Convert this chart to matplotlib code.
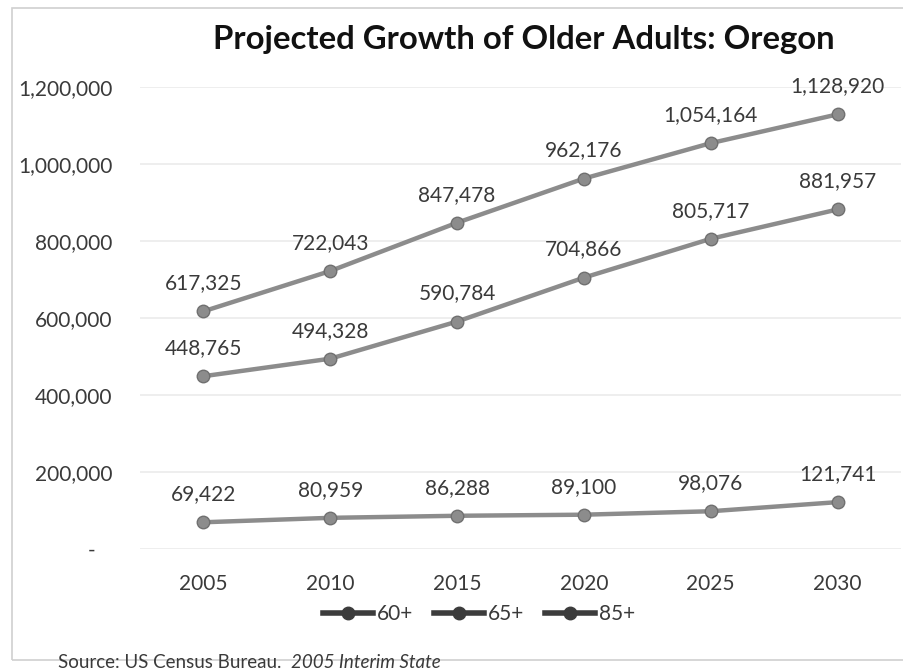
import matplotlib
matplotlib.use("Agg")
import matplotlib.pyplot as plt
from matplotlib.lines import Line2D
from matplotlib.patches import Rectangle

plt.rcParams["font.family"] = ["Lato", "DejaVu Sans"]

years = ["2005", "2010", "2015", "2020", "2025", "2030"]
age_60 = [617325, 722043, 847478, 962176, 1054164, 1128920]
age_65 = [448765, 494328, 590784, 704866, 805717, 881957]
age_85 = [69422, 80959, 86288, 89100, 98076, 121741]
series_names = ["60+", "65+", "85+"]
y_ticks = [0, 200000, 400000, 600000, 800000, 1000000, 1200000]

line_col = "#8c8c8c"
edge_col = "#707070"
text_col = "#3a3a3a"

fig = plt.figure(figsize=(9.04, 6.71), dpi=100)
ax = fig.add_axes([140 / 904, 1 - 549 / 671, 761 / 904, 462 / 671])

x = list(range(len(years)))
for vals in (age_60, age_65, age_85):
    ax.plot(x, vals, color=line_col, lw=3.2, marker="o", ms=9,
            mfc=line_col, mec=edge_col, mew=1.0, solid_capstyle="round", zorder=3)
    for xi, v in zip(x, vals):
        ax.annotate(f"{v:,}", (xi, v), xytext=(0, 13), textcoords="offset points",
                    ha="center", va="bottom", fontsize=15, color=text_col,
                    annotation_clip=False)

ax.set_xlim(-0.5, len(years) - 0.5)
ax.set_ylim(0, 1200000)
ax.set_xticks(x)
ax.set_xticklabels(years)
ax.set_yticks(y_ticks)
ax.set_yticklabels(["-   " if t == 0 else f"{t:,}" for t in y_ticks])
ax.tick_params(axis="both", length=0, labelsize=15, labelcolor=text_col)
ax.tick_params(axis="x", pad=18)
ax.tick_params(axis="y", pad=20)
ax.grid(axis="y", color="#ebebeb", lw=1.2)
ax.set_axisbelow(True)
for s in ax.spines.values():
    s.set_visible(False)

fig.text(524 / 904, 1 - 40 / 671, "Projected Growth of Older Adults: Oregon",
         ha="center", va="center", fontsize=23.7, fontweight="bold", color="#111111")

handles = [Line2D([], [], color="#3c3c3c", lw=4, marker="o", ms=9,
                  mfc="#3c3c3c", mec="#3c3c3c") for _ in series_names]
fig.legend(handles, series_names, loc="center", bbox_to_anchor=(479 / 904, 1 - 614 / 671),
           ncol=3, frameon=False, fontsize=15, handlelength=2.4, handletextpad=0.2,
           columnspacing=1.0, labelcolor=text_col)

fig.text(58 / 904, 1 - 663 / 671, "Source: US Census Bureau.", ha="left", va="center",
         fontsize=13.5, color=text_col)
fig.text(291 / 904, 1 - 663 / 671, "2005 Interim State", ha="left", va="center",
         fontsize=13.5, color=text_col, style="italic")

fig.patches.append(Rectangle((12 / 904, 1 - 660 / 671), 895 / 904, 652 / 671,
                             transform=fig.transFigure, fill=False,
                             edgecolor="#d0d0d0", lw=1.2))

fig.savefig("out.png", dpi=100)
